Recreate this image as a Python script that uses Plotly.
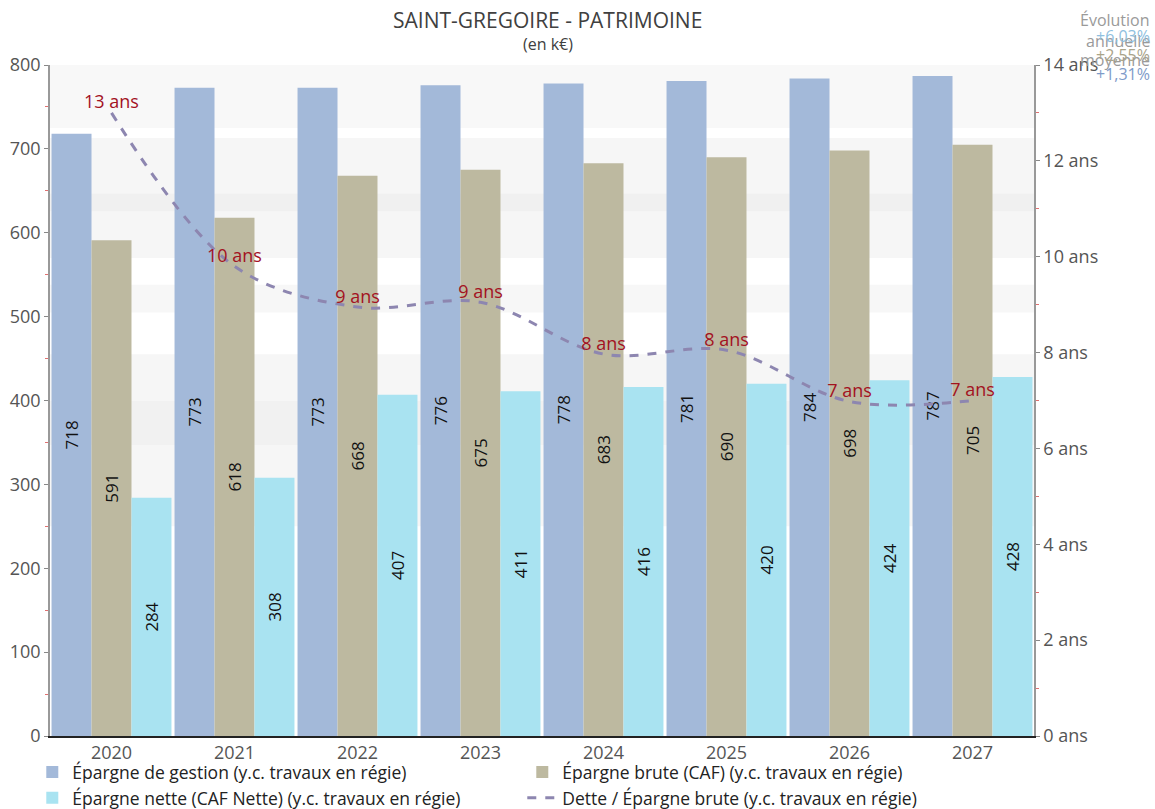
import plotly.graph_objects as go

# Données (k€) par exercice
annees = ["2020", "2021", "2022", "2023", "2024", "2025", "2026", "2027"]
epargne_gestion = [718, 773, 773, 776, 778, 781, 784, 787]
epargne_brute = [591, 618, 668, 675, 683, 690, 698, 705]
epargne_nette = [284, 308, 407, 411, 416, 420, 424, 428]
# Capacité de désendettement (années)
dette_sur_brute = [13.0, 9.8, 8.95, 9.05, 7.97, 8.05, 6.98, 7.0]
# Évolution annuelle moyenne : nette, brute, gestion
evolution = ["+6,03%", "+2,55%", "+1,31%"]

noms = [
    "Épargne de gestion (y.c. travaux en régie)",
    "Épargne brute (CAF) (y.c. travaux en régie)",
    "Épargne nette (CAF Nette) (y.c. travaux en régie)",
    "Dette / Épargne brute (y.c. travaux en régie)",
]
couleurs = ["#a3b9d9", "#bdb9a0", "#a9e3f1"]
couleur_ligne = "#8d86b0"
police = "Open Sans"

fig = go.Figure()
for nom, vals, coul in zip(noms[:3], [epargne_gestion, epargne_brute, epargne_nette], couleurs):
    fig.add_trace(go.Bar(
        x=annees, y=vals, name=nom, marker=dict(color=coul, line=dict(width=0)),
        text=[str(v) for v in vals], textposition="inside", insidetextanchor="middle",
        textangle=-90, textfont=dict(size=17, color="#111111", family=police),
        hoverinfo="skip",
    ))

fig.add_trace(go.Scatter(
    x=annees, y=dette_sur_brute, name=noms[3], yaxis="y2",
    mode="lines+text", line=dict(color=couleur_ligne, width=3, dash="dash", shape="spline", smoothing=1),
    text=[f"{round(v)} ans" for v in dette_sur_brute], textposition="top center",
    textfont=dict(size=18, color="#a3121f", family=police),
))

# Bandes de fond
bandes = [
    (725, 800, "#f8f8f8"), (647, 713, "#f6f6f6"), (625, 647, "#f0f0f0"),
    (570, 625, "#f6f6f6"), (505, 538, "#f7f7f7"), (400, 455, "#f6f6f6"),
    (347, 400, "#f1f1f1"), (250, 347, "#f6f6f6"),
]
for y0, y1, c in bandes:
    fig.add_shape(type="rect", xref="paper", yref="y", x0=0, x1=1, y0=y0, y1=y1,
                  fillcolor=c, line=dict(width=0), layer="below")

# Titre et sous-titre
fig.add_annotation(xref="paper", yref="paper", x=0.506, y=1.067, xanchor="center", yanchor="middle",
                   text="SAINT-GREGOIRE - PATRIMOINE", showarrow=False,
                   font=dict(size=21, color="#404040", family=police))
fig.add_annotation(xref="paper", yref="paper", x=0.506, y=1.032, xanchor="center", yanchor="middle",
                   text="(en k€)", showarrow=False,
                   font=dict(size=16, color="#404040", family=police))

# Encadré « Évolution annuelle moyenne »
for txt, yy in zip(["Évolution", "annuelle", "moyenne"], [1.067, 1.036, 1.008]):
    fig.add_annotation(xref="paper", yref="paper", x=1.12, y=yy, xanchor="right",
                       yanchor="middle", text=txt, showarrow=False,
                       font=dict(size=16, color="#9a9a9a", family=police))
for txt, c, yy in zip(evolution, ["#8fbfe0", "#aaa48a", "#7e9bc9"], [1.043, 1.015, 0.987]):
    fig.add_annotation(xref="paper", yref="paper", x=1.12, y=yy, xanchor="right",
                       yanchor="middle", text=txt, showarrow=False,
                       font=dict(size=16, color=c, family=police))

fig.update_layout(
    width=1155, height=809,
    margin=dict(l=50, r=121, t=65, b=73, autoexpand=False),
    paper_bgcolor="white", plot_bgcolor="white",
    font=dict(family=police, color="#444444"),
    barmode="group", bargap=0.025, bargroupgap=0,
    showlegend=True,
    legend=dict(
        orientation="h", x=-0.018, xanchor="left", y=-0.027, yanchor="top",
        entrywidth=445, entrywidthmode="pixels", traceorder="normal",
        font=dict(size=17.5, color="#222222", family=police), itemwidth=30,
        bgcolor="rgba(0,0,0,0)", tracegroupgap=0,
    ),
    xaxis=dict(
        type="category", showgrid=False, showline=True, linecolor="#222222", linewidth=1.5,
        ticks="", tickfont=dict(size=18, color="#555555"),
    ),
    yaxis=dict(
        range=[0, 800], dtick=100, showgrid=False, zeroline=False,
        showline=True, linecolor="#999999", linewidth=1.5,
        ticks="outside", ticklen=4, tickcolor="#888888",
        tickfont=dict(size=18, color="#555555"),
        minor=dict(dtick=50, ticks="outside", ticklen=3, tickcolor="#e07070"),
    ),
    yaxis2=dict(
        range=[0, 14], dtick=2, overlaying="y", side="right", showgrid=False, zeroline=False,
        showline=True, linecolor="#999999", linewidth=1.5,
        ticks="outside", ticklen=4, tickcolor="#888888", ticksuffix=" ans",
        tickfont=dict(size=18, color="#555555"),
        minor=dict(dtick=1, ticks="outside", ticklen=3, tickcolor="#e07070"),
    ),
)

fig.write_html("out.html")
